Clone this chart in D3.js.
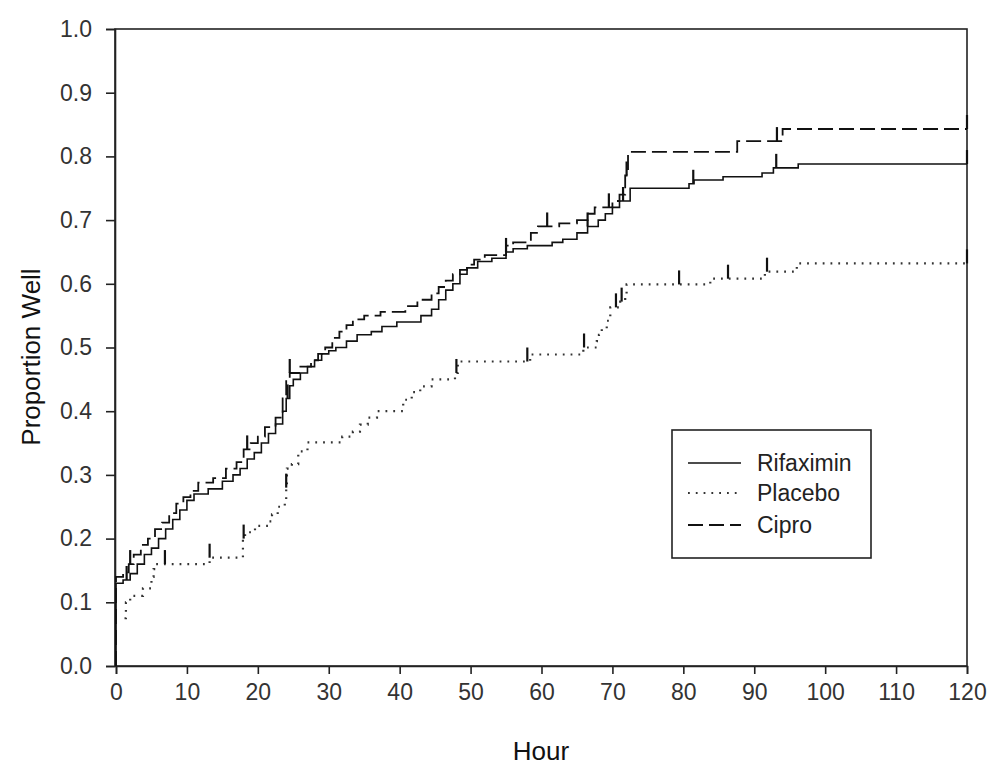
<!DOCTYPE html>
<html>
<head>
<meta charset="utf-8">
<script src="https://cdn.jsdelivr.net/npm/d3@7"></script>
<style>
  body { margin: 0; background: #fff; }
  svg text { font-family: "Liberation Sans", Arial, sans-serif; }
  .tick text { font-family: "Liberation Sans Narrow", "Liberation Sans", Arial, sans-serif; }
</style>
</head>
<body>
<svg id="chart" width="989" height="767"></svg>
<script>
'use strict';

// step points [hour, proportion well]
var rifaximin = [[0,0],[0,0.13],[1,0.135],[2,0.145],[3,0.16],[4,0.175],[5,0.185],[6,0.2],[7,0.215],[8,0.23],[9,0.245],[10,0.26],[11,0.27],[13,0.278],[15,0.29],[16.5,0.3],[17.5,0.31],[18.5,0.325],[19.5,0.335],[20.5,0.35],[21.5,0.365],[22.5,0.38],[23.5,0.4],[24,0.42],[24.5,0.44],[25,0.45],[26,0.46],[27,0.47],[28,0.48],[29,0.49],[30,0.495],[31,0.5],[32.5,0.51],[34,0.52],[36,0.525],[37.5,0.533],[39.6,0.54],[43,0.55],[44.5,0.56],[45.5,0.575],[46.5,0.59],[47.5,0.6],[48.5,0.615],[49.5,0.625],[51,0.635],[53,0.64],[55,0.65],[56,0.655],[58,0.66],[61.5,0.665],[63,0.67],[65,0.68],[66.5,0.69],[68,0.7],[69,0.71],[70,0.72],[71,0.73],[72.5,0.75],[80.8,0.757],[81.5,0.763],[85.6,0.768],[91.1,0.774],[92.7,0.782],[96.2,0.788],[120,0.788]];

var placebo = [[1.2,0.075],[1.4,0.1],[2,0.11],[3.8,0.122],[5,0.14],[5.3,0.152],[5.6,0.16],[13.2,0.17],[17.9,0.2],[18.2,0.21],[19.6,0.22],[21.5,0.227],[22,0.238],[22.8,0.25],[23.8,0.26],[24,0.28],[24.1,0.31],[24.8,0.317],[25.7,0.337],[27,0.351],[31.9,0.36],[33.4,0.368],[34.4,0.379],[35.5,0.39],[36.8,0.4],[40.5,0.418],[41.7,0.43],[42.9,0.439],[44.5,0.45],[47.8,0.46],[48.2,0.478],[58.4,0.489],[65.9,0.5],[67.8,0.51],[68.1,0.52],[68.5,0.53],[69.2,0.542],[69.7,0.563],[71.1,0.572],[71.8,0.583],[72,0.599],[83.8,0.608],[91.5,0.619],[96,0.632],[120,0.632]];

var cipro = [[0,0],[0,0.14],[1,0.147],[1.8,0.16],[2.5,0.175],[3.5,0.19],[4.5,0.2],[5.5,0.215],[6.5,0.225],[7.5,0.24],[8.5,0.255],[9.5,0.265],[10.5,0.275],[11.6,0.288],[13.7,0.295],[15.5,0.31],[17,0.32],[18,0.34],[19,0.35],[20,0.36],[21,0.375],[22.5,0.39],[23.5,0.42],[24,0.45],[24.5,0.46],[26,0.47],[27.5,0.48],[28.5,0.49],[29.5,0.5],[30.5,0.515],[31.5,0.525],[32.5,0.535],[33.4,0.544],[35,0.55],[37.3,0.556],[40.8,0.565],[42.5,0.575],[44.5,0.585],[45.5,0.595],[46.5,0.605],[47.5,0.615],[48.5,0.622],[49.5,0.63],[50.5,0.638],[52,0.645],[55,0.66],[56,0.665],[58.5,0.68],[59.5,0.69],[62.5,0.695],[65,0.7],[66.5,0.71],[67.5,0.72],[70,0.73],[71,0.74],[71.8,0.77],[72.2,0.807],[87.6,0.824],[94,0.843],[120,0.843]];

// censor ticks (hours)
var rifaximinCensor = [1.5, 24.2, 55, 66.5, 71.5, 81.4, 93.1, 120];
var placeboCensor = [6.9, 13.2, 18, 24, 48, 58, 66, 70.5, 71.3, 79.4, 86.3, 91.8, 120];
var ciproCensor = [2, 18.5, 24.5, 60.8, 69.5, 72, 93.2, 120];

var xTicks = [0,10,20,30,40,50,60,70,80,90,100,110,120];
var yTicks = [0,0.1,0.2,0.3,0.4,0.5,0.6,0.7,0.8,0.9,1.0];

var legendItems = [
    {name: 'Rifaximin', dash: null, width: 1.6, color: '#111'},
    {name: 'Placebo', dash: '1.8,6', width: 2.2, color: '#333'},
    {name: 'Cipro', dash: '15,6', width: 1.8, color: '#111'}
];

var margin = {left: 116, right: 967, top: 29, bottom: 666};

var svg = d3.select('#chart');

var x = d3.scaleLinear().domain([0, 120]).range([margin.left, margin.right]);
var y = d3.scaleLinear().domain([0, 1]).range([margin.bottom, margin.top]);

// frame
svg.append('rect')
    .attr('x', margin.left - 1)
    .attr('y', margin.top)
    .attr('width', margin.right - margin.left + 1)
    .attr('height', margin.bottom - margin.top)
    .attr('fill', 'none')
    .attr('stroke', '#222')
    .attr('stroke-width', 1.6);

var xAxis = svg.append('g')
    .attr('transform', 'translate(0,' + margin.bottom + ')')
    .call(d3.axisBottom(x).tickValues(xTicks).tickSize(8).tickPadding(10).tickFormat(d3.format('d')));

var yAxis = svg.append('g')
    .attr('transform', 'translate(' + (margin.left - 1) + ',0)')
    .call(d3.axisLeft(y).tickValues(yTicks).tickSize(9).tickPadding(14).tickFormat(d3.format('.1f')));

[xAxis, yAxis].forEach(function (g) {
    g.select('.domain').attr('stroke', '#222').attr('stroke-width', 1.6);
    g.selectAll('.tick line').attr('stroke', '#222').attr('stroke-width', 1.6);
    g.selectAll('.tick text')
        .attr('fill', '#333')
        .style('font-size', '23px');
});

var line = d3.line()
    .x(function (d) { return x(d[0]); })
    .y(function (d) { return y(d[1]); })
    .curve(d3.curveStepAfter);

function drawSeries(data, censor, item) {
    svg.append('path')
        .datum(data)
        .attr('d', line)
        .attr('fill', 'none')
        .attr('stroke', item.color)
        .attr('stroke-width', item.width)
        .attr('stroke-dasharray', item.dash);

    // value at a time, for censor marks
    var bisect = d3.bisector(function (d) { return d[0]; }).right;
    svg.selectAll(null)
        .data(censor)
        .enter().append('line')
        .attr('x1', function (t) { return x(t); })
        .attr('x2', function (t) { return x(t); })
        .attr('y1', function (t) { return y(data[Math.max(0, bisect(data, t) - 1)][1]); })
        .attr('y2', function (t) { return y(data[Math.max(0, bisect(data, t) - 1)][1] + 0.022); })
        .attr('stroke', '#111')
        .attr('stroke-width', 2.2);
}

drawSeries(placebo, placeboCensor, legendItems[1]);
drawSeries(rifaximin, rifaximinCensor, legendItems[0]);
drawSeries(cipro, ciproCensor, legendItems[2]);

// axis titles
svg.append('text')
    .attr('x', 541)
    .attr('y', 760)
    .attr('text-anchor', 'middle')
    .attr('fill', '#111')
    .style('font-size', '26px')
    .text('Hour');

svg.append('text')
    .attr('transform', 'translate(40,357) rotate(-90)')
    .attr('text-anchor', 'middle')
    .attr('fill', '#111')
    .style('font-size', '26px')
    .text('Proportion Well');

// legend
var legend = svg.append('g');
legend.append('rect')
    .attr('x', 672).attr('y', 430)
    .attr('width', 199).attr('height', 128)
    .attr('fill', '#fff')
    .attr('stroke', '#222')
    .attr('stroke-width', 1.6);

var rows = legend.selectAll('g.item')
    .data(legendItems)
    .enter().append('g')
    .attr('class', 'item')
    .attr('transform', function (d, i) { return 'translate(0,' + [463, 493, 525][i] + ')'; });

rows.append('line')
    .attr('x1', 688).attr('x2', 741)
    .attr('y1', 0).attr('y2', 0)
    .attr('stroke', function (d) { return d.color; })
    .attr('stroke-width', function (d) { return d.width; })
    .attr('stroke-dasharray', function (d) { return d.dash; });

rows.append('text')
    .attr('x', 757)
    .attr('y', 8)
    .attr('fill', '#222')
    .style('font-size', '23px')
    .text(function (d) { return d.name; });
</script>
</body>
</html>
